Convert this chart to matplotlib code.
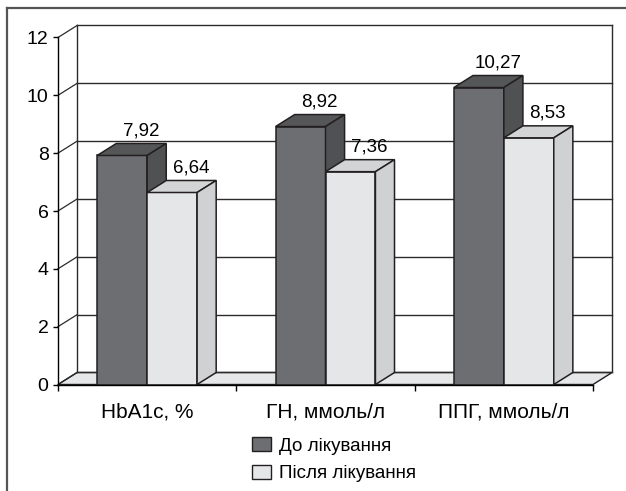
import matplotlib.pyplot as plt
from matplotlib.patches import Polygon, Patch
from matplotlib.lines import Line2D

plt.rcParams['font.family'] = ['Liberation Sans', 'DejaVu Sans']

# дані
categories = ["HbA1c, %", "ГН, ммоль/л", "ППГ, ммоль/л"]
series_names = ["До лікування", "Після лікування"]
before = [7.92, 8.92, 10.27]
after = [6.64, 7.36, 8.53]
yticks = [0, 2, 4, 6, 8, 10, 12]

# кольори граней: фронт, верх, бік
dark = ("#6d6e71", "#555658", "#505153")
light = ("#e5e6e7", "#d3d4d6", "#d0d1d3")
edge = "#231f20"

# глибина «3D» у одиницях осей
ddx, ddy = 0.107, 0.415
bar_w = 0.28

fig = plt.figure(figsize=(6.26, 4.91), dpi=100)
ax = fig.add_axes([58 / 626, 106.5 / 491, 535 / 626, 347 / 491])
ax.set_xlim(0, 3)
ax.set_ylim(0, 12)

def poly(pts, fc, z, lw=1.1):
    p = Polygon(pts, closed=True, facecolor=fc, edgecolor=edge, lw=lw,
                zorder=z, clip_on=False, joinstyle='miter')
    ax.add_patch(p)

# підлога
poly([(0, 0), (3, 0), (3 + ddx, ddy), (ddx, ddy)], "#e6e7e8", 1, lw=1.0)

# задня стінка і сітка
for v in yticks:
    ax.plot([ddx, 3 + ddx], [v + ddy, v + ddy], color="#2b2b2b", lw=1.0,
            zorder=2, clip_on=False)
    ax.plot([0, ddx], [v, v + ddy], color="#2b2b2b", lw=0.9,
            zorder=2, clip_on=False)
for xx in (ddx, 3 + ddx):
    ax.plot([xx, xx], [ddy, 12 + ddy], color="#2b2b2b", lw=1.0,
            zorder=2, clip_on=False)

# стовпчики
z = 3
for i in range(len(categories)):
    for j, (vals, cols) in enumerate(((before, dark), (after, light))):
        v = vals[i]
        x0 = i + 0.5 - bar_w + j * bar_w
        x1 = x0 + bar_w
        poly([(x0, 0), (x1, 0), (x1, v), (x0, v)], cols[0], z)
        poly([(x0, v), (x1, v), (x1 + ddx, v + ddy), (x0 + ddx, v + ddy)], cols[1], z)
        poly([(x1, 0), (x1 + ddx, ddy), (x1 + ddx, v + ddy), (x1, v)], cols[2], z)
        z += 1
        ax.annotate(f"{v:.2f}".replace(".", ","), xy=((x0 + x1) / 2, v),
                    xytext=(19, 20), textcoords="offset pixels",
                    ha="center", va="baseline", fontsize=13.5, zorder=20,
                    annotation_clip=False)

# осі
for s in ("top", "right"):
    ax.spines[s].set_visible(False)
for s in ("left", "bottom"):
    ax.spines[s].set_color("black")
    ax.spines[s].set_linewidth(1.0)
    ax.spines[s].set_zorder(15)

ax.set_yticks(yticks)
ax.set_yticklabels([str(t) for t in yticks])
ax.tick_params(axis="y", length=3.6, width=1.0, pad=3.2, labelsize=14)

ax.set_xticks([0, 1, 2, 3])
ax.set_xticklabels([])
ax.set_xticks([0.5, 1.5, 2.5], minor=True)
ax.set_xticklabels(categories, minor=True)
ax.tick_params(axis="x", which="major", length=4.5, width=1.0, direction="out")
ax.tick_params(axis="x", which="minor", length=0, pad=13, labelsize=15)

# легенда
handles = [Patch(facecolor=dark[0], edgecolor=edge, lw=1.0),
           Patch(facecolor=light[0], edgecolor=edge, lw=1.0)]
fig.legend(handles, series_names, loc="upper left",
           bbox_to_anchor=(252 / 626, 1 - 437 / 491), frameon=False,
           fontsize=13.5, borderpad=0, borderaxespad=0,
           handlelength=1.0, handleheight=0.8, handletextpad=0.43,
           labelspacing=0.53)

# рамка зверху і зліва
fig.add_artist(Line2D([7 / 626, 1], [1 - 8 / 491, 1 - 8 / 491],
                      color="#555555", lw=1.6, transform=fig.transFigure))
fig.add_artist(Line2D([7 / 626, 7 / 626], [0, 1 - 8 / 491],
                      color="#555555", lw=1.6, transform=fig.transFigure))

fig.savefig("out.png", dpi=100)
